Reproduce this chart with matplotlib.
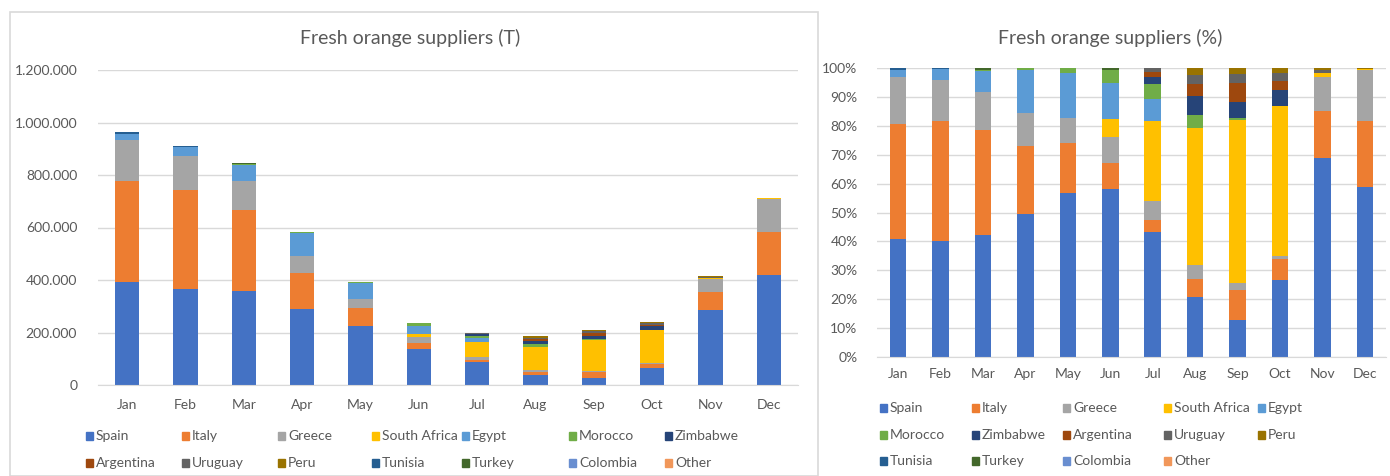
import matplotlib

matplotlib.use("Agg")

import matplotlib.pyplot as plt
import numpy as np
from matplotlib.patches import Rectangle
from matplotlib.ticker import FuncFormatter, PercentFormatter

MONTHS = ["Jan", "Feb", "Mar", "Apr", "May", "Jun",
          "Jul", "Aug", "Sep", "Oct", "Nov", "Dec"]

# Tonnes par pays et par mois
SPAIN = [392000, 365000, 357000, 289000, 223000, 138000, 86000, 38500, 27000, 64500, 287000, 419000]
ITALY = [385000, 379000, 309000, 137000, 69000, 22000, 8500, 11300, 22000, 17000, 67000, 165000]
GREECE = [155000, 127000, 110000, 66000, 34000, 21000, 13000, 9000, 5000, 3000, 49000, 124000]
SOUTH_AFRICA = [0, 0, 0, 0, 0, 15000, 55000, 87700, 118000, 124500, 6000, 4000]
EGYPT = [23000, 35000, 63000, 86000, 61000, 30000, 15000, 0, 0, 0, 0, 0]
MOROCCO = [3000, 0, 3000, 5000, 7000, 10000, 10500, 8500, 1500, 0, 0, 0]
ZIMBABWE = [0, 0, 0, 0, 0, 0, 5000, 12200, 11500, 14000, 0, 0]
ARGENTINA = [0, 0, 0, 0, 0, 0, 3000, 7600, 14000, 7000, 0, 0]
URUGUAY = [0, 0, 0, 0, 0, 0, 3000, 6000, 7000, 7000, 4000, 0]
PERU = [0, 0, 0, 0, 0, 0, 0, 4200, 4000, 4000, 3000, 2000]
TUNISIA = [5000, 4000, 0, 0, 0, 0, 0, 0, 0, 0, 0, 0]
TURKEY = [0, 0, 5000, 0, 0, 2000, 0, 0, 0, 0, 0, 0]
COLOMBIA = [0] * 12
OTHER = [0] * 12

SERIES = [
    ("Spain", SPAIN, "#4472C4"),
    ("Italy", ITALY, "#ED7D31"),
    ("Greece", GREECE, "#A5A5A5"),
    ("South Africa", SOUTH_AFRICA, "#FFC000"),
    ("Egypt", EGYPT, "#5B9BD5"),
    ("Morocco", MOROCCO, "#70AD47"),
    ("Zimbabwe", ZIMBABWE, "#264478"),
    ("Argentina", ARGENTINA, "#9E480E"),
    ("Uruguay", URUGUAY, "#636363"),
    ("Peru", PERU, "#997300"),
    ("Tunisia", TUNISIA, "#255E91"),
    ("Turkey", TURKEY, "#43682B"),
    ("Colombia", COLOMBIA, "#698ED0"),
    ("Other", OTHER, "#F1975A"),
]

TEXT = "#595959"
GRID = "#D9D9D9"
plt.rcParams["font.family"] = ["Lato", "DejaVu Sans"]

W, H = 1390, 476
fig = plt.figure(figsize=(W / 100, H / 100), dpi=100)


def box(x0, y0, x1, y1):
    # coordonnées pixel (origine en haut à gauche) -> fraction de figure
    return [x0 / W, 1 - y1 / H, (x1 - x0) / W, (y1 - y0) / H]


def style_axes(ax):
    for side in ("top", "right", "left"):
        ax.spines[side].set_visible(False)
    ax.spines["bottom"].set_color(GRID)
    ax.grid(axis="y", color=GRID, linewidth=1)
    ax.set_axisbelow(True)
    ax.tick_params(length=0, colors=TEXT, labelsize=10)
    ax.set_xlim(-0.5, 11.5)


def stacked(ax, share=False, width=0.42):
    x = np.arange(len(MONTHS))
    totals = np.sum([np.array(v, float) for _, v, _ in SERIES], axis=0)
    bottom = np.zeros(len(MONTHS))
    for name, values, color in SERIES:
        vals = np.array(values, float)
        if share:
            vals = vals / totals
        ax.bar(x, vals, width, bottom=bottom, color=color, label=name)
        bottom += vals
    ax.set_xticks(x)
    ax.set_xticklabels(MONTHS)


def manual_legend(xs, ys, names):
    lookup = {n: c for n, _, c in SERIES}
    for name, x, y in zip(names, xs, ys):
        fig.patches.append(Rectangle((x / W, 1 - (y + 4) / H), 7 / W, 8 / H,
                                     transform=fig.transFigure,
                                     color=lookup[name]))
        fig.text((x + 10) / W, 1 - y / H, name, color=TEXT, fontsize=10,
                 va="center", ha="left")


# cadre du panneau de gauche
fig.patches.append(Rectangle((10 / W, 0), 808 / W, 1 - 12 / H,
                             transform=fig.transFigure, fill=False,
                             edgecolor=GRID, linewidth=1.2))

# --- Tonnes ---
ax1 = fig.add_axes(box(98, 70, 798, 385))
stacked(ax1, width=0.42)
style_axes(ax1)
ax1.set_ylim(0, 1200000)
ax1.set_yticks(np.arange(0, 1200001, 200000))
ax1.yaxis.set_major_formatter(
    FuncFormatter(lambda v, _: f"{int(v):,}".replace(",", ".")))
ax1.tick_params(axis="y", pad=15)
ax1.tick_params(axis="x", pad=10)
fig.text(410 / W, 1 - 38 / H, "Fresh orange suppliers (T)",
         ha="center", va="center", fontsize=14, color=TEXT)

names = [n for n, _, _ in SERIES]
left_cols = [86, 182, 278, 372, 462, 569, 665]
manual_legend(left_cols * 2, [436] * 7 + [463] * 7, names)

# --- Parts ---
ax2 = fig.add_axes(box(877, 68, 1386, 357))
stacked(ax2, share=True, width=0.39)
style_axes(ax2)
ax2.set_ylim(0, 1)
ax2.set_yticks(np.arange(0, 1.01, 0.1))
ax2.yaxis.set_major_formatter(PercentFormatter(1.0, decimals=0))
ax2.tick_params(axis="y", pad=14)
ax2.tick_params(axis="x", pad=8)
fig.text(1110 / W, 1 - 38 / H, "Fresh orange suppliers (%)",
         ha="center", va="center", fontsize=14, color=TEXT)

right_cols = [880, 972, 1063, 1164, 1258]
rows = [408, 435, 461]
xs = [right_cols[i % 5] for i in range(len(names))]
ys = [rows[i // 5] for i in range(len(names))]
manual_legend(xs, ys, names)

fig.savefig("out.png", dpi=100)
